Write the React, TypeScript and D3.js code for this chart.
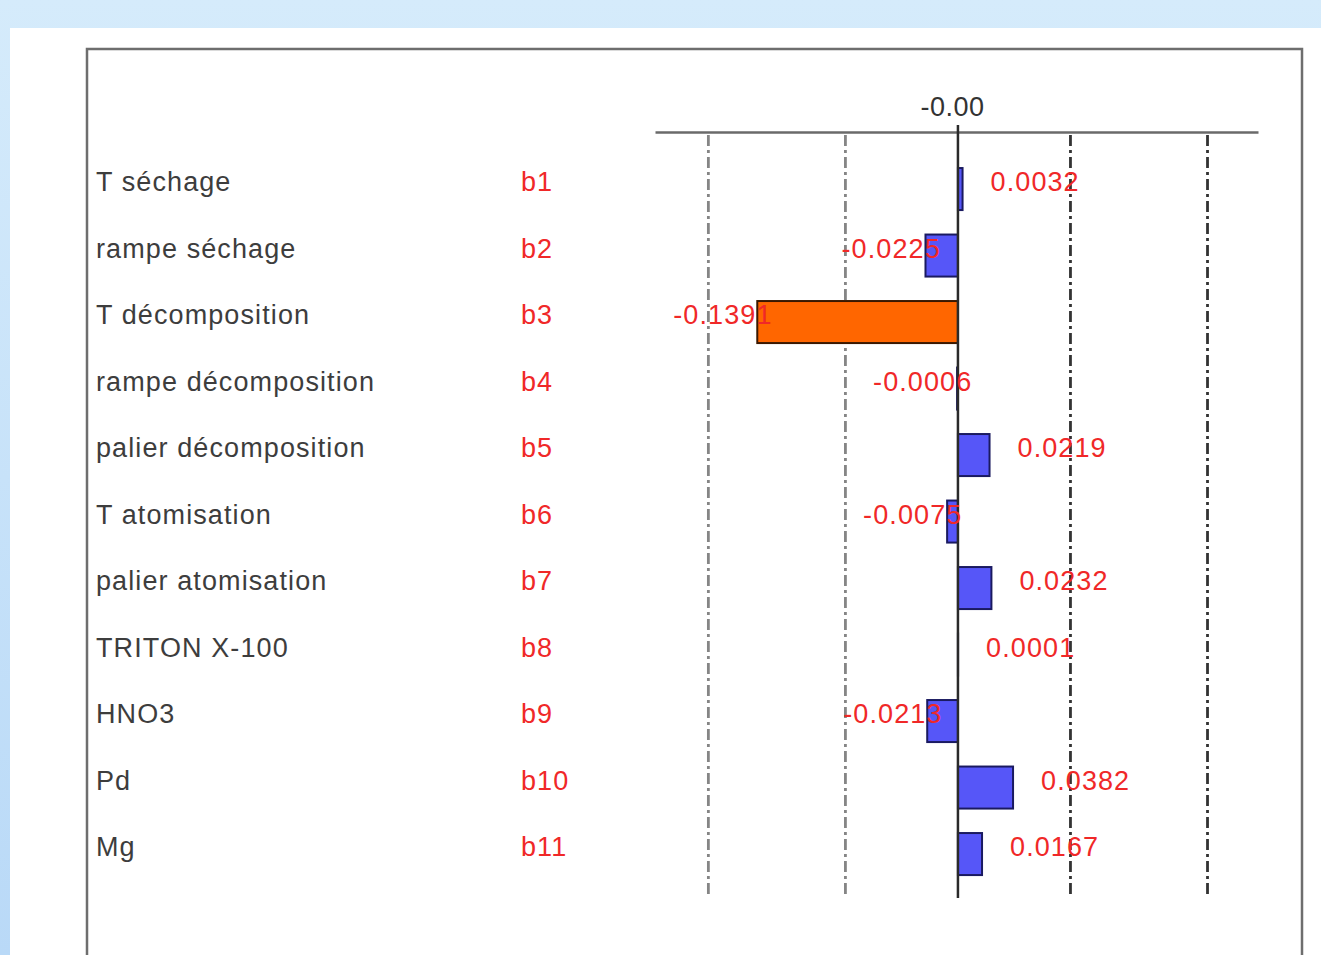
import React, { useRef, useEffect } from "react";
import * as d3 from "d3";

// factor names, coefficient codes and values
const factors = [
  "T séchage",
  "rampe séchage",
  "T décomposition",
  "rampe décomposition",
  "palier décomposition",
  "T atomisation",
  "palier atomisation",
  "TRITON X-100",
  "HNO3",
  "Pd",
  "Mg",
];
const codes = ["b1", "b2", "b3", "b4", "b5", "b6", "b7", "b8", "b9", "b10", "b11"];
const coefs = [0.0032, -0.0225, -0.1391, -0.0006, 0.0219, -0.0075, 0.0232, 0.0001, -0.0213, 0.0382, 0.0167];
const valueLabels = ["0.0032", "-0.0225", "-0.1391", "-0.0006", "0.0219", "-0.0075", "0.0232", "0.0001", "-0.0213", "0.0382", "0.0167"];
// significance limits shown as dashed lines
const limits = [-0.173, -0.078, 0.078, 0.173];
const highlighted = ["b3"];

const W = 1321;
const H = 955;

const App = () => {
  const svgRef = useRef(null);

  useEffect(() => {
    const svg = d3.select(svgRef.current);
    svg.selectAll("*").remove();

    const font = "'Liberation Sans', Arial, sans-serif";

    // background: light blue page, white panel
    const defs = svg.append("defs");
    const grad = defs
      .append("linearGradient")
      .attr("id", "bg")
      .attr("x1", 0)
      .attr("y1", 0)
      .attr("x2", 0)
      .attr("y2", 1);
    grad.append("stop").attr("offset", "0%").attr("stop-color", "#d5ebfb");
    grad.append("stop").attr("offset", "100%").attr("stop-color", "#b9d9f7");
    svg.append("rect").attr("width", W).attr("height", H).attr("fill", "url(#bg)");
    svg.append("rect").attr("x", 10).attr("y", 28).attr("width", W - 10).attr("height", H - 28).attr("fill", "#fff");

    // frame (runs off the bottom of the picture)
    svg
      .append("rect")
      .attr("x", 87)
      .attr("y", 49)
      .attr("width", 1215)
      .attr("height", 1000)
      .attr("fill", "none")
      .attr("stroke", "#6e6e6e")
      .attr("stroke-width", 2.5);

    const x = d3.scaleLinear().domain([-0.21, 0.208]).range([655, 1258]);
    const y = d3
      .scaleBand()
      .domain(codes)
      .range([155.8, 887.3])
      .paddingInner(0.368)
      .paddingOuter(0.184);
    const textOff = 14;

    // top axis
    const axis = svg
      .append("g")
      .attr("transform", "translate(0,132)")
      .call(
        d3
          .axisTop(x)
          .tickValues([0])
          .tickFormat(() => "-0.00")
          .tickSize(0)
          .tickPadding(16)
      );
    axis.select(".domain").attr("stroke", "#6a6a6a").attr("stroke-width", 2.5);
    axis
      .selectAll("text")
      .attr("font-family", font)
      .attr("font-size", 27)
      .attr("letter-spacing", 0.5)
      .attr("fill", "#333")
      .attr("dx", -6);

    // dashed limit lines
    svg
      .append("g")
      .selectAll("line")
      .data(limits)
      .join("line")
      .attr("x1", (d) => x(d))
      .attr("x2", (d) => x(d))
      .attr("y1", 135)
      .attr("y2", 898)
      .attr("stroke", (d) => (d < 0 ? "#858585" : "#333"))
      .attr("stroke-width", 2.8)
      .attr("stroke-dasharray", "11,4,3,4");

    // bars
    svg
      .append("g")
      .selectAll("rect")
      .data(coefs)
      .join("rect")
      .attr("x", (d) => Math.min(x(0), x(d)))
      .attr("y", (d, i) => y(codes[i]))
      .attr("width", (d) => Math.abs(x(d) - x(0)))
      .attr("height", y.bandwidth())
      .attr("fill", (d, i) => (highlighted.includes(codes[i]) ? "#ff6600" : "#5656f8"))
      .attr("stroke", (d, i) => (highlighted.includes(codes[i]) ? "#3a1800" : "#1a1a60"))
      .attr("stroke-width", 2);

    // zero line
    svg
      .append("line")
      .attr("x1", x(0))
      .attr("x2", x(0))
      .attr("y1", 125)
      .attr("y2", 898)
      .attr("stroke", "#2a2a2a")
      .attr("stroke-width", 2.5);

    // factor names
    svg
      .append("g")
      .selectAll("text")
      .data(factors)
      .join("text")
      .attr("x", 96)
      .attr("y", (d, i) => y(codes[i]) + textOff)
      .attr("dominant-baseline", "central")
      .attr("font-family", font)
      .attr("font-size", 27)
      .attr("letter-spacing", 1.1)
      .attr("fill", "#3d3d3d")
      .text((d) => d);

    // coefficient codes
    svg
      .append("g")
      .selectAll("text")
      .data(codes)
      .join("text")
      .attr("x", 521)
      .attr("y", (d) => y(d) + textOff)
      .attr("dominant-baseline", "central")
      .attr("font-family", font)
      .attr("font-size", 27)
      .attr("letter-spacing", 1.1)
      .attr("fill", "#f02828")
      .text((d) => d);

    // value labels
    svg
      .append("g")
      .selectAll("text")
      .data(coefs)
      .join("text")
      .attr("x", (d) => (d < 0 ? x(d) - 84 : x(d) + 28))
      .attr("y", (d, i) => y(codes[i]) + textOff)
      .attr("dominant-baseline", "central")
      .attr("font-family", font)
      .attr("font-size", 27)
      .attr("letter-spacing", 1.1)
      .attr("fill", "#f02828")
      .text((d, i) => valueLabels[i]);
  }, []);

  return (
    <svg
      ref={svgRef}
      width={W}
      height={H}
      style={{ position: "fixed", left: 0, top: 0, display: "block" }}
    ></svg>
  );
};

export default App;
